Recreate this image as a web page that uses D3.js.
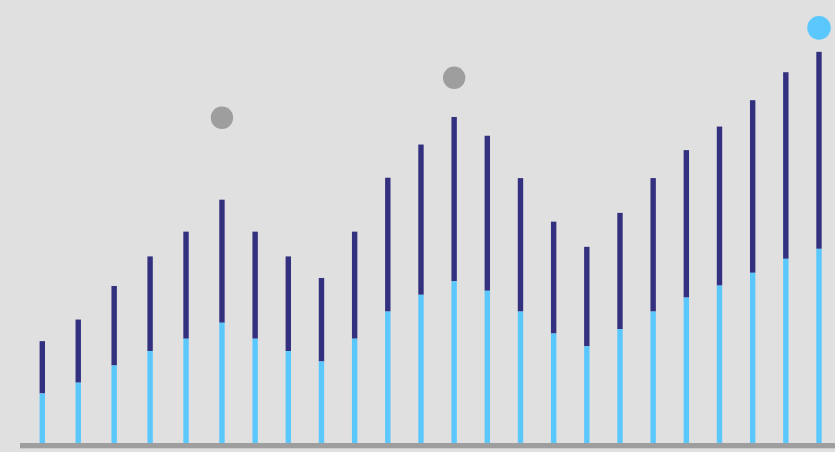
<!DOCTYPE html>
<html>
<head>
<meta charset="utf-8">
<script src="https://cdn.jsdelivr.net/npm/d3@7"></script>
<style>
  html, body { margin: 0; padding: 0; background: #e0e0e0; overflow: hidden; }
</style>
</head>
<body>
<div id="chart"></div>
<script>
// positions along the x axis (first six steps are a bit wider)
const periods = [0, 13, 26, 39, 52, 65, 77, 89, 101, 113, 125, 137,
                 149, 161, 173, 185, 197, 209, 221, 233, 245, 257, 269, 281];
// lower (light blue) segment
const baseValues = [12.4, 15.1, 19.4, 23.0, 26.1, 30.1, 26.1, 23.0, 20.4, 26.1, 32.9, 37.1,
                    40.5, 38.1, 32.9, 27.4, 24.2, 28.5, 32.9, 36.4, 39.4, 42.6, 46.1, 48.6];
// upper (navy) segment
const topValues = [13.1, 15.8, 19.9, 23.7, 26.8, 30.8, 26.8, 23.7, 20.9, 26.8, 33.5, 37.6,
                   41.1, 38.8, 33.4, 28.0, 24.9, 29.1, 33.4, 36.9, 39.8, 43.2, 46.7, 49.3];
// highlight markers: bar index, value, kind
const markerIndex = [5, 12, 23];
const markerValues = [81.4, 91.4, 103.9];
const markerKind = ["past", "past", "current"];

const width = 835, height = 452;
const margin = {top: 3.5, bottom: 8.5, left: 20, right: 0};

const svg = d3.select("#chart")
    .append("svg")
    .attr("width", width)
    .attr("height", height)
    .style("display", "block")
    .style("background", "#e0e0e0");

const x = d3.scaleLinear()
    .domain([0, 281])
    .range([42.3, 819]);

const y = d3.scaleLinear()
    .domain([0, 110])
    .range([height - margin.bottom - 0.5, margin.top]);

const barW = 5.4;

const data = periods.map((p, i) => ({
    p,
    base: baseValues[i],
    top: topValues[i]
}));

// navy upper part
svg.selectAll(".upper")
    .data(data)
    .enter()
    .append("rect")
    .attr("class", "upper")
    .attr("x", d => x(d.p) - barW / 2)
    .attr("y", d => y(d.base + d.top))
    .attr("width", barW)
    .attr("height", d => y(d.base) - y(d.base + d.top))
    .attr("fill", "#33317f");

// light blue lower part
svg.selectAll(".lower")
    .data(data)
    .enter()
    .append("rect")
    .attr("class", "lower")
    .attr("x", d => x(d.p) - barW / 2)
    .attr("y", d => y(d.base))
    .attr("width", barW)
    .attr("height", d => y(0) - y(d.base))
    .attr("fill", "#5ac8fd");

// baseline
svg.append("rect")
    .attr("x", margin.left)
    .attr("y", y(0))
    .attr("width", width - margin.left)
    .attr("height", 5.3)
    .attr("fill", "#9e9e9e");

// markers
svg.selectAll(".marker")
    .data(markerIndex)
    .enter()
    .append("circle")
    .attr("class", "marker")
    .attr("cx", d => x(periods[d]))
    .attr("cy", (d, i) => y(markerValues[i]))
    .attr("r", (d, i) => markerKind[i] === "current" ? 11.8 : 11.2)
    .attr("fill", (d, i) => markerKind[i] === "current" ? "#5ac8fd" : "#9e9e9e");
</script>
</body>
</html>
